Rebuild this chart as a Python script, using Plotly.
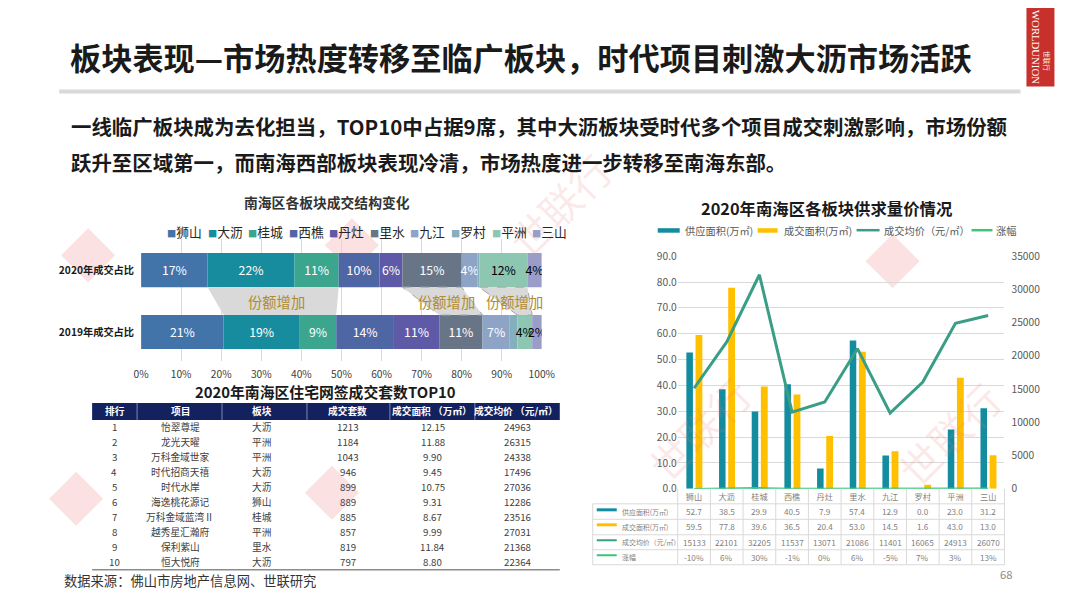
import plotly.graph_objects as go

# figure 1064x592 inside the page's default 8px body margin
W, H = 1064, 592
OFF = 8
# measured photo mapping (page -> picture): x' = 0.980x + 8.0, y' = 0.976y + 8.7 ; invert it
AX, BX = 0.980, 8.0
AY, BY = 0.976, 8.7
FS = 1 / 0.978
def px(x): return ((x - BX) / AX - OFF) / W
def py(y): return 1 - ((y - BY) / AY - OFF) / H
def fs(s): return round(s * FS, 2)

FONT = "Noto Sans CJK SC, Noto Sans, sans-serif"

# ---------------- data ----------------
blocks = ["狮山", "大沥", "桂城", "西樵", "丹灶", "里水", "九江", "罗村", "平洲", "三山"]
block_colors = ["#4273a9", "#178c9e", "#3ba58e", "#4f66a5", "#5f5aa7",
                "#687586", "#8ea4c6", "#84afbd", "#8dc7b2", "#9b9dc9"]
label_colors = ["white"] * 8 + ["black"] * 2
share_2020 = [16.6, 21.7, 11.0, 10.2, 5.7, 14.8, 4.0, 0.4, 12.0, 3.6]
share_2019 = [20.6, 19.0, 9.1, 14.4, 11.3, 10.8, 6.8, 1.9, 3.7, 2.4]
year_labels = ["2020年成交占比", "2019年成交占比"]
pct_ticks = list(range(0, 101, 10))

# TOP10 table
ranks = [1, 2, 3, 4, 5, 6, 7, 8, 9, 10]
projects = ["怡翠尊堤", "龙光天曜", "万科金域世家", "时代招商天禧", "时代水岸",
            "海逸桃花源记", "万科金域蓝湾Ⅱ", "越秀星汇瀚府", "保利紫山", "恒大悦府"]
proj_blocks = ["大沥", "平洲", "平洲", "大沥", "大沥", "狮山", "桂城", "平洲", "里水", "大沥"]
units = [1213, 1184, 1043, 946, 899, 889, 885, 857, 819, 797]
areas = ["12.15", "11.88", "9.90", "9.45", "10.75", "9.31", "8.67", "9.99", "11.84", "8.80"]
prices_top = [24963, 26315, 24338, 17496, 27036, 12286, 23516, 27031, 21368, 22364]
table_headers = ["排行", "项目", "板块", "成交套数", "成交面积 （万㎡）", "成交均价 （元/㎡）"]

# Supply / demand chart
supply = [52.7, 38.5, 29.9, 40.5, 7.9, 57.4, 12.9, 0.0, 23.0, 31.2]
sales = [59.5, 77.8, 39.6, 36.5, 20.4, 53.0, 14.5, 1.6, 43.0, 13.0]
avg_price = [15133, 22101, 32205, 11537, 13071, 21086, 11401, 16065, 24913, 26070]
growth = [-10, 6, 30, -1, 0, 6, -5, 7, 3, 13]
series_names = ["供应面积(万㎡)", "成交面积(万㎡)", "成交均价（元/㎡）", "涨幅"]

C_SUPPLY = "#138c9f"
C_SALES = "#ffc000"
C_PRICE = "#3a9e87"
C_GROWTH = "#3cc47c"

fig = go.Figure()
shapes = []
ann = []


def A(x, y, text, size, color="#1a1a1a", xanchor="center", xref="paper", yref="paper",
      angle=0, family=FONT):
    ann.append(dict(x=x, y=y, xref=xref, yref=yref, xanchor=xanchor, yanchor="middle",
                    showarrow=False, text=text, textangle=angle,
                    font=dict(size=fs(size), color=color, family=family)))


def hline(x0, x1, y, color, width, dash="solid"):
    shapes.append(dict(type="line", xref="paper", yref="paper", x0=px(x0), x1=px(x1),
                       y0=py(y), y1=py(y), line=dict(color=color, width=width, dash=dash)))


def vline(x, y0, y1, color, width):
    shapes.append(dict(type="line", xref="paper", yref="paper", x0=px(x), x1=px(x),
                       y0=py(y0), y1=py(y1), line=dict(color=color, width=width)))


def rect(x0, x1, y0, y1, color, layer="above"):
    shapes.append(dict(type="rect", xref="paper", yref="paper", x0=px(x0), x1=px(x1),
                       y0=py(y1), y1=py(y0), fillcolor=color, line=dict(width=0), layer=layer))


# ---------------- faint watermarks ----------------
for cx, cy in [(88, 256), (352, 246), (76, 500), (332, 494), (893, 262)]:
    r = 27
    path = (f"M {px(cx)},{py(cy - r)} L {px(cx + r)},{py(cy)} "
            f"L {px(cx)},{py(cy + r)} L {px(cx - r)},{py(cy)} Z")
    shapes.append(dict(type="path", path=path, xref="paper", yref="paper",
                       fillcolor="#fbe1e1", line=dict(width=0), layer="below"))
for cx, cy in [(700, 430), (950, 435), (560, 205)]:
    A(px(cx), py(cy), "世联行", 40, "rgba(232,120,120,0.16)", angle=-45)

# ---------------- left stacked bars ----------------
cum20, cum19 = [0], [0]
for a, b in zip(share_2020, share_2019):
    cum20.append(cum20[-1] + a)
    cum19.append(cum19[-1] + b)

for i, b in enumerate(blocks):
    vals = [share_2020[i], share_2019[i]]
    fig.add_trace(go.Bar(
        orientation="h", y=[1, 0], x=vals, base=[cum20[i], cum19[i]],
        width=0.55, marker=dict(color=block_colors[i], line=dict(width=0)),
        text=[f"{round(v)}%" if v >= 2 else "" for v in vals],
        textposition="inside", insidetextanchor="middle", constraintext="none",
        textangle=0, textfont=dict(size=fs(12), color=label_colors[i], family=FONT),
        xaxis="x", yaxis="y", showlegend=False, name=b))

# trapezoids "份额增加"
for (s, e), dashed in [((1, 3), False), ((5, 6), True), ((8, 9), True)]:
    t0, t1 = cum20[s], cum20[e]
    b0, b1 = cum19[s], cum19[e]
    path = f"M {t0},0.725 L {t1},0.725 L {b1},0.275 L {b0},0.275 Z"
    shapes.append(dict(type="path", path=path, xref="x", yref="y",
                       fillcolor="#d9d9d9", layer="above",
                       line=dict(color="#a6a6a6" if dashed else "rgba(0,0,0,0)",
                                 width=1, dash="dash")))
    A((t0 + t1 + b0 + b1) / 4, 0.5, "份额增加", 14, "#b38b2c", xref="x", yref="y")

# left chart legend
for i, b in enumerate(blocks):
    A(px(165 + 40.6 * i), py(232),
      f"<span style='color:{block_colors[i]};font-size:{fs(9)}px'>■</span>{b}",
      12.5, "#262626", xanchor="left")

# ---------------- right chart ----------------
fig.add_trace(go.Bar(x=blocks, y=supply, width=0.2, offset=-0.235,
                     marker=dict(color=C_SUPPLY, line=dict(width=0)),
                     xaxis="x2", yaxis="y2", showlegend=False, name=series_names[0]))
fig.add_trace(go.Bar(x=blocks, y=sales, width=0.21, offset=0.045,
                     marker=dict(color=C_SALES, line=dict(width=0)),
                     xaxis="x2", yaxis="y2", showlegend=False, name=series_names[1]))
fig.add_trace(go.Scatter(x=blocks, y=[g / 100 for g in growth], mode="lines",
                         line=dict(color=C_GROWTH, width=2), xaxis="x2", yaxis="y2",
                         showlegend=False, name=series_names[3]))
fig.add_trace(go.Scatter(x=blocks, y=avg_price, mode="lines",
                         line=dict(color=C_PRICE, width=3), xaxis="x2", yaxis="y3",
                         showlegend=False, name=series_names[2]))

# right legend
leg = [(658, 680, C_SUPPLY, "bar", 683), (758, 778, C_SALES, "bar", 782),
       (857, 880, C_PRICE, "line", 882), (972, 993, C_GROWTH, "line", 995)]
for (x0, x1, c, kind, tx), nm in zip(leg, series_names):
    if kind == "bar":
        rect(x0, x1, 229, 233.5, c)
    else:
        hline(x0, x1, 231, c, 2.5)
    A(px(tx), py(231), nm, 10, "#595959", xanchor="left")

# data table under right chart
xl, xr = 678, 1005
cw = (xr - xl) / 10
grid_c = "#d9d9d9"
for yy in [505, 520.5, 536, 551, 566]:
    hline(593, xr, yy, grid_c, 1)
for k in range(11):
    vline(xl + k * cw, 490, 566, grid_c, 1)
vline(593, 505, 566, grid_c, 1)

row_y = [513, 528, 543.5, 558.5]
row_vals = [[f"{v:.1f}" for v in supply], [f"{v:.1f}" for v in sales],
            [str(v) for v in avg_price], [f"{g}%" for g in growth]]
sw = [(C_SUPPLY, "bar"), (C_SALES, "bar"), (C_PRICE, "line"), (C_GROWTH, "line")]
for r, (yy, vals) in enumerate(zip(row_y, row_vals)):
    c, kind = sw[r]
    if kind == "bar":
        rect(597, 617, yy - 3.5, yy - 0.5, c)
    else:
        hline(597, 617, yy - 2, c, 2)
    A(px(620), py(yy), series_names[r], 6.8, "#7f7f7f", xanchor="left")
    for b, v in zip(blocks, vals):
        A(b, py(yy), v, 8, "#7f7f7f", xref="x2")

# ---------------- TOP10 table ----------------
rect(92, 560, 404, 421, "#14215f")
for xx in [137, 222, 307, 390, 475]:
    vline(xx, 404, 421, "#7d88b0", 1)
head_x = [115, 180, 262, 348, 432, 516]
for hx, ht in zip(head_x, table_headers):
    A(px(hx), py(412.5), f"<b>{ht}</b>", 9.5, "white")
col_x = [114, 180, 262, 348, 433, 518]
for i in range(10):
    yy = 428 + i * 15.0
    row = [str(ranks[i]), projects[i], proj_blocks[i], str(units[i]), areas[i], str(prices_top[i])]
    for cx, t in zip(col_x, row):
        A(px(cx), py(yy), t, 9.5, "#404040")
hline(92, 560, 571, "#8c8c8c", 1.5)

# ---------------- page furniture ----------------
A(px(68), py(57), "<b>板块表现—市场热度转移至临广板块，时代项目刺激大沥市场活跃</b>", 30.5, xanchor="left")
hline(59, 1021, 92, "#d9d9d9", 4)
A(px(69), py(127), "<b>一线临广板块成为去化担当，TOP10中占据9席，其中大沥板块受时代多个项目成交刺激影响，市场份额</b>",
  20, xanchor="left")
A(px(69), py(163), "<b>跃升至区域第一，而南海西部板块表现冷清，市场热度进一步转移至南海东部。</b>",
  20, xanchor="left")
A(px(327), py(203), "<b>南海区各板块成交结构变化</b>", 13.5, "#333333")
A(px(326), py(393), "<b>2020年南海区住宅网签成交套数TOP10</b>", 14.5)
A(px(827), py(209), "<b>2020年南海区各板块供求量价情况</b>", 16)
A(px(62), py(582), "数据来源：佛山市房地产信息网、世联研究", 13, "#333333", xanchor="left")
A(px(1007), py(575), "68", 11, "#8c8c8c")
# logo
rect(1027, 1055, 0, 87, "#c8302c")
A(px(1036), py(48), "WORLDUNION", 10.5, "white", angle=90, family="Liberation Serif")
A(px(1047), py(62), "世联行", 6.5, "white", angle=90)

fig.update_layout(
    width=W, height=H, autosize=False, margin=dict(l=0, r=0, t=0, b=0),
    paper_bgcolor="white", plot_bgcolor="rgba(0,0,0,0)", barmode="overlay",
    font=dict(family=FONT), shapes=shapes, annotations=ann,
    xaxis=dict(domain=[px(141), px(542)], range=[0, 100], anchor="y",
               tickvals=pct_ticks, ticktext=[f"{t}%" for t in pct_ticks],
               showgrid=True, gridcolor="#d9d9d9", zeroline=False, showline=False,
               ticks="", ticklabelstandoff=6, tickfont=dict(size=fs(10), color="#404040")),
    yaxis=dict(domain=[py(362), py(240)], range=[-0.468, 1.5], anchor="x",
               tickvals=[1, 0], ticktext=[f"<b>{t}</b>" for t in year_labels],
               showgrid=False, zeroline=False, showline=False, ticks="",
               ticklabelstandoff=6, tickfont=dict(size=fs(10), color="#1a1a1a")),
    xaxis2=dict(domain=[px(678), px(1005)], range=[-0.5, 9.5], anchor="y2",
                showgrid=False, zeroline=False, showline=False, ticks="",
                ticklabelstandoff=2, tickfont=dict(size=fs(8), color="#7f7f7f")),
    yaxis2=dict(domain=[py(490), py(257)], range=[0, 90], dtick=10, tickformat=".1f",
                anchor="x2", showgrid=True, gridcolor="#d9d9d9", zeroline=False,
                showline=False, ticks="", tickfont=dict(size=fs(10), color="#595959")),
    yaxis3=dict(range=[0, 35000], dtick=5000, tickformat="d", overlaying="y2", side="right",
                anchor="x2", showgrid=False, zeroline=False, showline=False, ticks="",
                ticklabelstandoff=6, tickfont=dict(size=fs(10), color="#595959")),
)

fig.write_html("out.html", config={"displayModeBar": False, "staticPlot": True})
